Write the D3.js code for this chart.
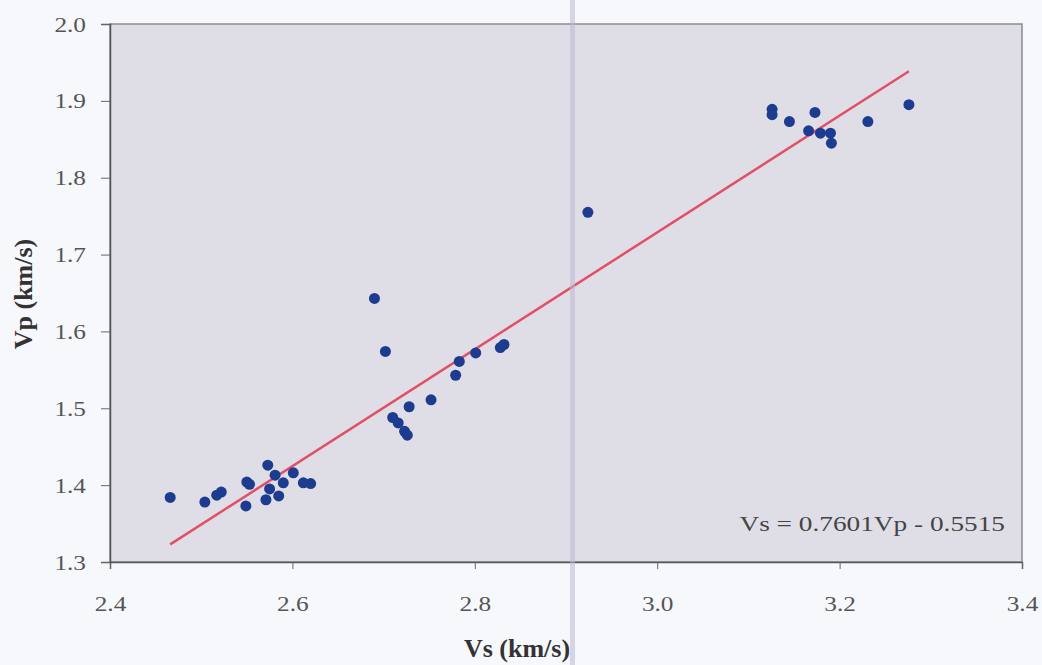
<!DOCTYPE html>
<html>
<head>
<meta charset="utf-8">
<script src="https://cdn.jsdelivr.net/npm/d3@7"></script>
<style>
    body { margin: 0; background: #f6f8fc; }
    svg { display: block; }
</style>
</head>
<body>
<div id="chart"></div>
<script>
// Vs (km/s) readings
const vsValues = [
    2.466, 2.504, 2.517, 2.522, 2.549, 2.550, 2.553, 2.573, 2.581, 2.575,
    2.571, 2.585, 2.590, 2.601, 2.612, 2.620,
    2.690, 2.702, 2.710, 2.716, 2.723, 2.726, 2.728, 2.752, 2.779, 2.783,
    2.801, 2.828, 2.832, 2.924,
    3.126, 3.126, 3.145, 3.173, 3.166, 3.179, 3.190, 3.191, 3.231, 3.276
];
// Vp (km/s) readings
const vpValues = [
    1.384, 1.378, 1.387, 1.391, 1.373, 1.404, 1.401, 1.426, 1.413, 1.395,
    1.381, 1.386, 1.403, 1.416, 1.403, 1.402,
    1.643, 1.574, 1.488, 1.481, 1.470, 1.465, 1.502, 1.511, 1.543, 1.561,
    1.572, 1.579, 1.583, 1.755,
    1.889, 1.882, 1.873, 1.885, 1.861, 1.858, 1.858, 1.845, 1.873, 1.895
];
const xTicks = [2.4, 2.6, 2.8, 3.0, 3.2, 3.4];
const yTicks = [1.3, 1.4, 1.5, 1.6, 1.7, 1.8, 1.9, 2.0];
const slope = 0.7601;
const intercept = -0.5515;
const equationLabel = "Vs = 0.7601Vp - 0.5515";

const width = 1042;
const height = 665;
const margin = {top: 24, right: 20, bottom: 103, left: 110};
const innerWidth = width - margin.left - margin.right;
const innerHeight = height - margin.top - margin.bottom;
const serif = "'Liberation Serif', 'Times New Roman', serif";

const svg = d3.select("#chart")
    .append("svg")
        .attr("width", width)
        .attr("height", height);

const innerChart = svg.append("g")
    .attr("transform", `translate(${margin.left}, ${margin.top})`);

const xScale = d3.scaleLinear().domain([2.4, 3.4]).range([0, innerWidth]);
const yScale = d3.scaleLinear().domain([1.3, 2.0]).range([innerHeight, 0]);

// plot area
innerChart.append("rect")
    .attr("width", innerWidth)
    .attr("height", innerHeight)
    .attr("fill", "#dfdee6")
    .attr("stroke", "#8a8a90")
    .attr("stroke-width", 1.5);

// faint scan stripe, as in the source picture
svg.append("rect")
    .attr("x", 570)
    .attr("y", 0)
    .attr("width", 5)
    .attr("height", height)
    .attr("fill", "#b9b8d2")
    .attr("opacity", 0.55);

// axes
const xAxis = d3.axisBottom(xScale)
    .tickValues(xTicks)
    .tickFormat(d3.format(".1f"))
    .tickSize(7)
    .tickPadding(26);
innerChart.append("g")
    .attr("class", "x-axis")
    .attr("transform", `translate(0, ${innerHeight})`)
    .call(xAxis)
    .call(g => g.select(".domain").attr("stroke", "#555").attr("stroke-width", 1.5))
    .call(g => g.selectAll(".tick line").attr("stroke", "#666"))
    .call(g => g.selectAll(".tick text")
        .attr("transform", "scale(1.15, 1)")
        .attr("fill", "#555")
        .style("font-family", serif)
        .style("font-size", "22px"));

const yAxis = d3.axisLeft(yScale)
    .tickValues(yTicks)
    .tickFormat(d3.format(".1f"))
    .tickSize(9);
innerChart.append("g")
    .attr("class", "y-axis")
    .call(yAxis)
    .call(g => g.select(".domain").attr("stroke", "#555").attr("stroke-width", 1.5))
    .call(g => g.selectAll(".tick line").attr("stroke", "#666"))
    .call(g => g.selectAll(".tick text")
        .attr("x", 0)
        .attr("transform", "translate(-24, 0) scale(1.15, 1)")
        .attr("fill", "#555")
        .style("font-family", serif)
        .style("font-size", "22px"));

// regression line over the data range
const xExtent = d3.extent(vsValues);
const lineData = xExtent.map(x => ({x: x, y: slope * x + intercept}));
innerChart.append("path")
    .datum(lineData)
    .attr("d", d3.line().x(d => xScale(d.x)).y(d => yScale(d.y)))
    .attr("fill", "none")
    .attr("stroke", "#e25068")
    .attr("stroke-width", 2.5);

// points
const points = vsValues.map((v, i) => ({vs: v, vp: vpValues[i]}));
innerChart.selectAll("circle")
    .data(points)
    .join("circle")
        .attr("cx", d => xScale(d.vs))
        .attr("cy", d => yScale(d.vp))
        .attr("r", 5.5)
        .attr("fill", "#1d3c8f");

// equation
innerChart.append("text")
    .text(equationLabel)
    .attr("transform", `translate(${innerWidth - 17}, ${innerHeight - 31}) scale(1.3, 1)`)
    .attr("text-anchor", "end")
    .attr("fill", "#444")
    .style("font-family", serif)
    .style("font-size", "21px");

// axis titles
svg.append("text")
    .text("Vs (km/s)")
    .attr("x", 517)
    .attr("y", 657)
    .attr("text-anchor", "middle")
    .attr("fill", "#333")
    .style("font-family", serif)
    .style("font-size", "26px")
    .style("font-weight", 700);

svg.append("text")
    .text("Vp (km/s)")
    .attr("transform", "translate(32, 294) rotate(-90)")
    .attr("text-anchor", "middle")
    .attr("fill", "#333")
    .style("font-family", serif)
    .style("font-size", "26px")
    .style("font-weight", 700);
</script>
</body>
</html>
